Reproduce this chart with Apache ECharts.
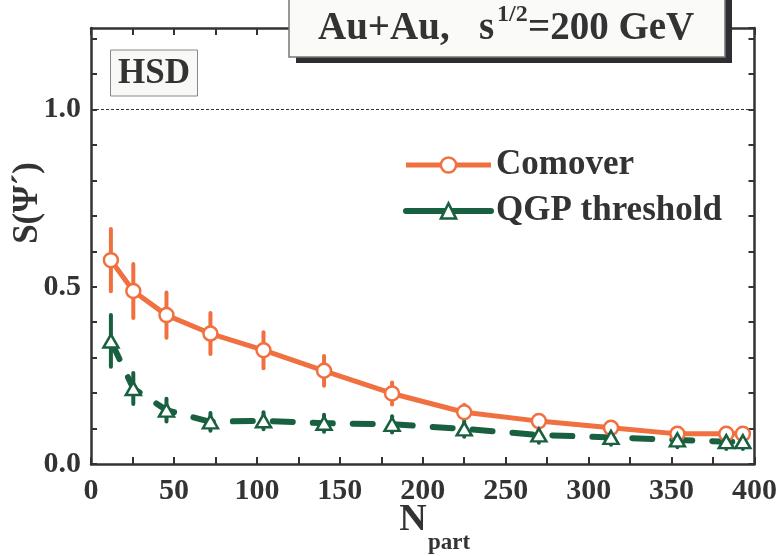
<!DOCTYPE html>
<html>
<head>
<meta charset="utf-8">
<script src="https://cdn.jsdelivr.net/npm/echarts@6/dist/echarts.min.js"></script>
<style>
html,body{margin:0;padding:0;background:#fff;}
#chart{width:780px;height:556px;}
</style>
</head>
<body>
<div id="chart"></div>
<script>
// ---- data ----
var nPart      = [12, 25.5, 45.5, 72, 104, 140.5, 181.5, 225, 270, 313.5, 353.5, 383, 393];
var comover    = [0.575, 0.488, 0.420, 0.368, 0.321, 0.263, 0.199, 0.146, 0.121, 0.102, 0.085, 0.085, 0.085];
var comoverErr = [0.088, 0.076, 0.064, 0.058, 0.051, 0.042, 0.031, 0.021, 0.017, 0.014, 0.012, 0.012, 0.012];
var qgp        = [0.347, 0.213, 0.152, 0.119, 0.122, 0.115, 0.112, 0.099, 0.082, 0.075, 0.068, 0.063, 0.063];
var qgpErr     = [0.073, 0.044, 0.032, 0.025, 0.024, 0.024, 0.023, 0.022, 0.022, 0.021, 0.021, 0.021, 0.021];
var xTicks = [0, 50, 100, 150, 200, 250, 300, 350, 400];
var yTickLabels = ['0.0', '0.5', '1.0'];
var seriesNames = ['Comover', 'QGP threshold'];
var titleText = 'Au+Au,   s';
var titleSup = '1/2';
var titleRest = '=200 GeV';
var modelLabel = 'HSD';

var ORANGE = '#f07040', GREEN = '#186040', INK = '#333333';
var FONT = '"Liberation Serif", "Times New Roman", serif';

function pairs(xs, ys){ return xs.map(function(x,i){ return [x, ys[i]]; }); }
function errRows(xs, ys, es){ return xs.map(function(x,i){ return [x, ys[i]-es[i], ys[i]+es[i]]; }); }

function errSeries(rows, color){
  return {
    type: 'custom', data: rows, z: 1, silent: true,
    encode: {x: 0, y: [1, 2]},
    renderItem: function(params, api){
      var x = api.value(0);
      var p1 = api.coord([x, api.value(1)]);
      var p2 = api.coord([x, api.value(2)]);
      return {type: 'line', shape: {x1: p1[0], y1: p1[1], x2: p2[0], y2: p2[1]},
              style: {stroke: color, lineWidth: 4, lineCap: 'round'}};
    }
  };
}

var chart = echarts.init(document.getElementById('chart'), null, {renderer: 'canvas'});

var axisCommon = {
  axisLine: {show: true, onZero: false, lineStyle: {color: INK, width: 2.5}},
  splitLine: {show: false}
};

chart.setOption({
  animation: false,
  backgroundColor: '#ffffff',
  grid: {left: 91, right: 24, top: 28, bottom: 92, containLabel: false},
  xAxis: [
    Object.assign({type: 'value', min: 0, max: 400, interval: 50, position: 'bottom',
      axisTick: {show: true, inside: true, length: 7, lineStyle: {color: INK, width: 2}},
      minorTick: {show: true, splitNumber: 2, length: 7, lineStyle: {color: INK, width: 2}},
      axisLabel: {show: true, margin: 12, color: INK, fontFamily: FONT, fontWeight: 'bold', fontSize: 30,
        formatter: function(v){ return xTicks.indexOf(v) >= 0 ? String(v) : ''; }}
    }, axisCommon),
    Object.assign({type: 'value', min: 0, max: 400, interval: 50, position: 'top',
      axisTick: {show: true, inside: true, length: 7, lineStyle: {color: INK, width: 2}},
      minorTick: {show: true, splitNumber: 2, length: 7, lineStyle: {color: INK, width: 2}},
      axisLabel: {show: false}
    }, axisCommon)
  ],
  yAxis: [
    Object.assign({type: 'value', min: 0, max: 1.23, interval: 0.1, position: 'left',
      axisTick: {show: true, inside: true, length: 6, lineStyle: {color: INK, width: 2}},
      axisLabel: {show: true, margin: 10, color: INK, fontFamily: FONT, fontWeight: 'bold', fontSize: 30,
        showMaxLabel: false,
        formatter: function(v){
          var k = Math.round(v * 2);
          if (Math.abs(v * 2 - k) < 1e-6 && k <= 2) return yTickLabels[k];
          return '';
        }}
    }, axisCommon),
    Object.assign({type: 'value', min: 0, max: 1.23, interval: 0.1, position: 'right',
      axisTick: {show: true, inside: true, length: 6, lineStyle: {color: INK, width: 2}},
      axisLabel: {show: false}
    }, axisCommon)
  ],
  legend: {
    show: true, orient: 'vertical', left: 398, top: 140,
    itemWidth: 85, itemHeight: 19, itemGap: 6,
    textStyle: {color: INK, fontFamily: FONT, fontWeight: 'bold', fontSize: 35, lineHeight: 40},
    data: [
      {name: seriesNames[0],
       itemStyle: {color: '#ffffff', borderColor: ORANGE, borderWidth: 2.5},
       lineStyle: {color: ORANGE, width: 5, type: 'solid'}},
      {name: seriesNames[1],
       itemStyle: {color: '#ffffff', borderColor: GREEN, borderWidth: 2.5},
       lineStyle: {color: GREEN, width: 6, type: 'solid', cap: 'round'}}
    ]
  },
  series: [
    errSeries(errRows(nPart, comover, comoverErr), ORANGE),
    errSeries(errRows(nPart, qgp, qgpErr), GREEN),
    {
      name: seriesNames[0], type: 'line', data: pairs(nPart, comover), z: 3,
      symbol: 'circle', symbolSize: 14, color: ORANGE,
      lineStyle: {color: ORANGE, width: 5},
      itemStyle: {color: '#ffffff', borderColor: ORANGE, borderWidth: 2.5},
      markLine: {
        silent: true, symbol: ['none', 'none'], label: {show: false},
        lineStyle: {color: INK, width: 1, type: [3, 2]},
        data: [{yAxis: 1.0}]
      }
    },
    {
      name: seriesNames[1], type: 'line', data: pairs(nPart, qgp), z: 3,
      symbol: 'triangle', symbolSize: [15, 13], color: GREEN,
      lineStyle: {color: GREEN, width: 6, type: [20, 20], cap: 'round'},
      itemStyle: {color: '#ffffff', borderColor: GREEN, borderWidth: 2.5}
    }
  ],
  graphic: [
    // title box with shadow
    {type: 'rect', z: 100, shape: {x: 296, y: -10, width: 436, height: 73}, style: {fill: '#2e2e32'}},
    {type: 'rect', z: 101, shape: {x: 289, y: -10, width: 436, height: 67},
     style: {fill: '#fafaf8', stroke: '#777777', lineWidth: 1.5}},
    {type: 'text', z: 102, x: 318, y: 48,
     style: {text: titleText, fill: INK, font: 'bold 39px ' + FONT, verticalAlign: 'bottom'}},
    {type: 'text', z: 102, x: 497, y: 3,
     style: {text: titleSup, fill: INK, font: 'bold 24px ' + FONT, verticalAlign: 'top'}},
    {type: 'text', z: 102, x: 528, y: 48,
     style: {text: titleRest, fill: INK, font: 'bold 39px ' + FONT, verticalAlign: 'bottom'}},
    // model label box
    {type: 'rect', z: 100, shape: {x: 110.5, y: 50, width: 87, height: 46},
     style: {fill: '#f8f8f6', stroke: '#888888', lineWidth: 1}},
    {type: 'text', z: 101, x: 154, y: 74,
     style: {text: modelLabel, fill: INK, font: 'bold 35px ' + FONT, align: 'center', verticalAlign: 'middle'}},
    // axis titles
    {type: 'text', z: 100, x: 28, y: 203, rotation: Math.PI / 2,
     style: {text: 'S(Ψ´)', fill: INK, font: 'bold 35px ' + FONT, align: 'center', verticalAlign: 'middle'}},
    {type: 'text', z: 100, x: 413, y: 520,
     style: {text: 'N', fill: INK, font: 'bold 38px ' + FONT, align: 'center', verticalAlign: 'middle'}},
    {type: 'text', z: 100, x: 449, y: 543,
     style: {text: 'part', fill: INK, font: 'bold 23px ' + FONT, align: 'center', verticalAlign: 'middle'}}
  ]
});
</script>
</body>
</html>
